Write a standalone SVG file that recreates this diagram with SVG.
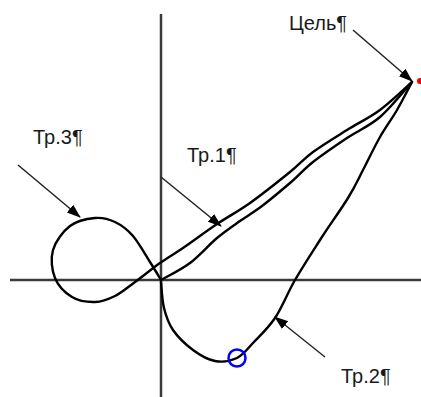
<svg xmlns="http://www.w3.org/2000/svg" width="421" height="397" viewBox="0 0 421 397">
<style>
.axis{stroke:#3a3a3a;stroke-width:2.5;fill:none}
.traj{stroke:#000;stroke-width:2.4;fill:none;stroke-linecap:round;stroke-linejoin:round}
.ptr{stroke:#222;stroke-width:1.5;fill:none;marker-end:url(#ah)}
.lbl{font-family:"Liberation Sans",Arial,sans-serif;font-size:20px;fill:#1a1a1a}
</style>
<defs>
<marker id="ah" markerUnits="userSpaceOnUse" markerWidth="14" markerHeight="12" refX="13" refY="5" orient="auto" viewBox="0 0 14 10">
<path d="M0,0 L14,5 L0,10 z" fill="#000"/>
</marker>
</defs>
<g id="axes">
<line class="axis" x1="161" y1="14" x2="161" y2="397"/>
<line class="axis" x1="10" y1="280" x2="421" y2="280"/>
</g>
<g id="connectors">
<path id="tr3-path" class="traj" d="M161,280 C159.2,277 154.7,269.3 150,262 C145.3,254.7 138.8,242.7 133,236 C127.2,229.3 121.3,225 115,222 C108.7,219 102.5,217.3 95,218 C87.5,218.7 77,220.7 70,226 C63,231.3 55.5,241.3 53,250 C50.5,258.7 51.8,270.2 55,278 C58.2,285.8 65.3,293 72,297 C78.7,301 87.8,302.2 95,302 C102.2,301.8 108.3,299.3 115,296 C121.7,292.7 127.5,287.5 135,282 C142.5,276.5 152,268.7 160,263 C168,257.3 173.5,254.5 183,248 C192.5,241.5 205.8,231.5 217,224 C228.2,216.5 237.8,211.7 250,203 C262.2,194.3 279.5,180.5 290,172 C300.5,163.5 303.5,159 313,152 C322.5,145 335.8,137 347,130 C358.2,123 369.2,118 380,110 C390.8,102 406.7,86.7 412,82"/>
<path id="tr1-path" class="traj" d="M161,280 C165.8,277.2 180.7,270 190,263 C199.3,256 208.7,245 217,238 C225.3,231 232.5,226.3 240,221 C247.5,215.7 253.7,212.3 262,206 C270.3,199.7 281.5,190.3 290,183 C298.5,175.7 303.5,169.5 313,162 C322.5,154.5 335.8,145.5 347,138 C358.2,130.5 369.2,126.3 380,117 C390.8,107.7 406.7,87.8 412,82"/>
<path id="tr2-path" class="traj" d="M161,282 C161.5,286.3 162,300 164,308 C166,316 168.2,323 173,330 C177.8,337 186,344.8 193,350 C200,355.2 207.7,359.7 215,361 C222.3,362.3 230.7,361 237,358 C243.3,355 246.7,349.7 253,343 C259.3,336.3 268,328.5 275,318 C282,307.5 287.5,293 295,280 C302.5,267 311.2,253.7 320,240 C328.8,226.3 340.8,209.7 348,198 C355.2,186.3 357.7,180.2 363,170 C368.3,159.8 374.3,147 380,137 C385.7,127 391.7,119.2 397,110 C402.3,100.8 409.5,86.7 412,82"/>
<line class="ptr" x1="353" y1="30" x2="412" y2="81"/>
<line class="ptr" x1="18" y1="165" x2="80" y2="217"/>
<line class="ptr" x1="161" y1="177" x2="221" y2="226"/>
<line class="ptr" x1="325" y1="357" x2="275" y2="317"/>
</g>
<g id="target">
<circle cx="420" cy="81" r="3" fill="#ff0000"/>
<text class="lbl" x="289" y="30">Цель¶</text>
</g>
<g id="tr1"><text class="lbl" x="187" y="162">Тр.1¶</text></g>
<g id="tr2"><text class="lbl" x="341" y="383">Тр.2¶</text>
<circle cx="237" cy="358" r="8.5" fill="none" stroke="#0000ff" stroke-width="2.5"/></g>
<g id="tr3"><text class="lbl" x="33" y="144">Тр.3¶</text></g>
</svg>
